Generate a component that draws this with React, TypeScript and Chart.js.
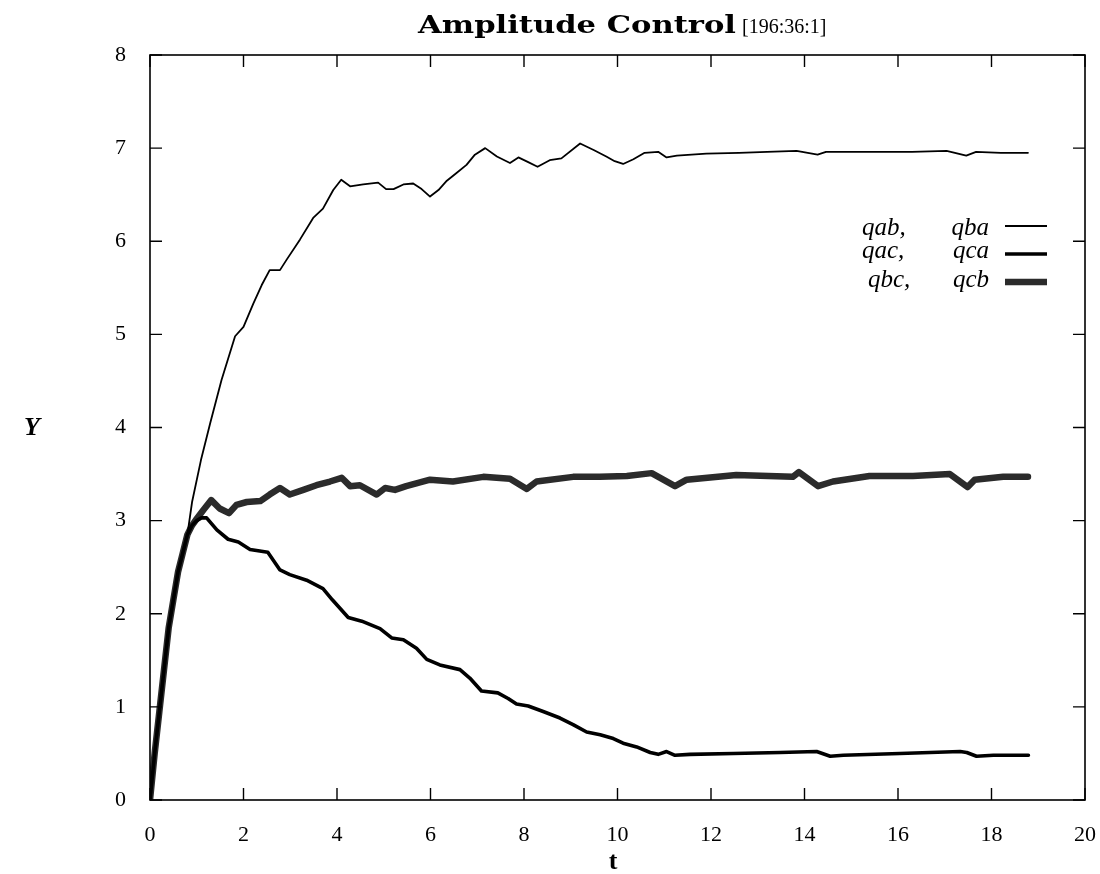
import React, { useEffect, useRef } from "react";
import { Chart, registerables } from "chart.js";

Chart.register(...registerables);

// ---- data ----
const qabT = [0, 0.1, 0.2, 0.3, 0.4, 0.5, 0.6, 0.7, 0.8, 0.9, 1.09, 1.29, 1.53, 1.82, 2.0, 2.21, 2.39, 2.56, 2.78, 2.92, 3.21, 3.49, 3.7, 3.92, 4.09, 4.28, 4.56, 4.88, 5.05, 5.21, 5.42, 5.63, 5.81, 5.99, 6.17, 6.35, 6.55, 6.77, 6.95, 7.17, 7.42, 7.7, 7.88, 8.09, 8.29, 8.55, 8.8, 9.2, 9.49, 9.76, 9.94, 10.12, 10.34, 10.58, 10.87, 11.05, 11.27, 11.9, 12.6, 13.2, 13.83, 14.28, 14.46, 15.46, 16.3, 17.04, 17.46, 17.67, 18.2, 18.78];
const qabY = [0, 0.5, 0.95, 1.4, 1.85, 2.15, 2.45, 2.65, 2.85, 3.2, 3.65, 4.05, 4.51, 4.98, 5.08, 5.33, 5.53, 5.69, 5.69, 5.8, 6.02, 6.25, 6.35, 6.55, 6.66, 6.59, 6.61, 6.63, 6.56, 6.56, 6.61, 6.62, 6.56, 6.48, 6.55, 6.65, 6.73, 6.82, 6.93, 7.0, 6.91, 6.84, 6.9, 6.85, 6.8, 6.87, 6.89, 7.05, 6.98, 6.91, 6.86, 6.83, 6.88, 6.95, 6.96, 6.9, 6.92, 6.94, 6.95, 6.96, 6.97, 6.93, 6.96, 6.96, 6.96, 6.97, 6.92, 6.96, 6.95, 6.95];

const qacT = [0, 0.1, 0.2, 0.3, 0.4, 0.5, 0.6, 0.7, 0.8, 0.9, 1.0, 1.1, 1.21, 1.43, 1.67, 1.89, 2.14, 2.52, 2.78, 2.99, 3.35, 3.7, 3.9, 4.24, 4.53, 4.92, 5.17, 5.42, 5.7, 5.92, 6.2, 6.63, 6.84, 7.09, 7.44, 7.66, 7.84, 8.09, 8.41, 8.77, 9.05, 9.34, 9.63, 9.91, 10.12, 10.41, 10.7, 10.87, 11.05, 11.23, 11.55, 12.48, 13.48, 14.26, 14.55, 14.83, 16.04, 17.33, 17.47, 17.68, 18.04, 18.79];
const qacY = [0, 0.5, 0.95, 1.4, 1.85, 2.15, 2.45, 2.65, 2.85, 2.95, 3.0, 3.03, 3.03, 2.9, 2.8, 2.77, 2.69, 2.66, 2.47, 2.42, 2.36, 2.27, 2.15, 1.96, 1.92, 1.84, 1.74, 1.72, 1.63, 1.51, 1.45, 1.4, 1.31, 1.17, 1.15, 1.09, 1.03, 1.01, 0.95, 0.88, 0.81, 0.73, 0.7, 0.66, 0.61, 0.57, 0.51, 0.49, 0.52, 0.48, 0.49, 0.5, 0.51, 0.52, 0.47, 0.48, 0.5, 0.52, 0.51, 0.47, 0.48, 0.48];

const qbcT = [0, 0.1, 0.2, 0.3, 0.4, 0.5, 0.6, 0.7, 0.8, 0.9, 1.0, 1.15, 1.31, 1.49, 1.69, 1.85, 2.07, 2.36, 2.56, 2.78, 2.99, 3.28, 3.56, 3.85, 4.1, 4.28, 4.49, 4.85, 5.03, 5.24, 5.48, 5.99, 6.48, 7.13, 7.7, 8.06, 8.27, 9.05, 9.62, 10.2, 10.73, 11.23, 11.48, 12.54, 13.75, 13.88, 14.29, 14.61, 15.39, 16.32, 17.11, 17.49, 17.64, 18.25, 18.78];
const qbcY = [0, 0.5, 0.95, 1.4, 1.85, 2.15, 2.45, 2.65, 2.85, 2.95, 3.02, 3.12, 3.22, 3.13, 3.08, 3.17, 3.2, 3.21, 3.28, 3.35, 3.28, 3.33, 3.38, 3.42, 3.46, 3.37, 3.38, 3.28, 3.35, 3.33, 3.37, 3.44, 3.42, 3.47, 3.45, 3.34, 3.42, 3.47, 3.47, 3.48, 3.51, 3.37, 3.44, 3.49, 3.47, 3.52, 3.37, 3.42, 3.48, 3.48, 3.5, 3.36, 3.44, 3.47, 3.47];

const xTickValues = [0, 2, 4, 6, 8, 10, 12, 14, 16, 18, 20];
const yTickValues = [0, 1, 2, 3, 4, 5, 6, 7, 8];

const titleMain = "Amplitude Control";
const titleSub = "[196:36:1]";
const xLabel = "t";
const yLabel = "Y";
const legendRows = [
  { a: "qab,", b: "qba" },
  { a: "qac,", b: "qca" },
  { a: "qbc,", b: "qcb" },
];

const toXY = (t: number[], y: number[]) => t.map((v, i) => ({ x: v, y: y[i] }));

const SERIF = "'Liberation Serif', 'DejaVu Serif', serif";

const decorPlugin = {
  id: "decor",
  afterDraw(chart: any) {
    const { ctx, chartArea } = chart;
    const { left, right, top, bottom } = chartArea;
    const xs = chart.scales.x;
    const ys = chart.scales.y;
    ctx.save();
    // frame
    ctx.strokeStyle = "#000";
    ctx.lineWidth = 1.6;
    ctx.strokeRect(left, top, right - left, bottom - top);
    // inward ticks on all four sides
    ctx.lineWidth = 1.4;
    const tl = 12;
    ctx.beginPath();
    xTickValues.forEach((v) => {
      const px = xs.getPixelForValue(v);
      ctx.moveTo(px, bottom);
      ctx.lineTo(px, bottom - tl);
      ctx.moveTo(px, top);
      ctx.lineTo(px, top + tl);
    });
    yTickValues.forEach((v) => {
      const py = ys.getPixelForValue(v);
      ctx.moveTo(left, py);
      ctx.lineTo(left + tl, py);
      ctx.moveTo(right, py);
      ctx.lineTo(right - tl, py);
    });
    ctx.stroke();

    // title
    ctx.fillStyle = "#000";
    ctx.textBaseline = "alphabetic";
    ctx.textAlign = "left";
    const mainFont = `bold 24px 'DejaVu Serif', serif`;
    const subFont = `20px ${SERIF}`;
    ctx.font = mainFont;
    const wMain = ctx.measureText(titleMain).width;
    ctx.font = subFont;
    const wSub = ctx.measureText(titleSub).width;
    const targetMain = 318;
    const gap = 6;
    const tx = 418;
    ctx.save();
    ctx.translate(tx, 33);
    ctx.scale(targetMain / wMain, 1);
    ctx.font = mainFont;
    ctx.fillText(titleMain, 0, 0);
    ctx.restore();
    ctx.font = subFont;
    ctx.fillText(titleSub, tx + targetMain + gap, 33);

    // axis labels
    ctx.font = `bold 26px ${SERIF}`;
    ctx.textAlign = "center";
    ctx.fillText(xLabel, 613, 869);
    ctx.font = `italic bold 26px ${SERIF}`;
    ctx.textBaseline = "middle";
    ctx.fillText(yLabel, 32, (top + bottom) / 2 + 1);

    // legend
    const rowsY = [235, 258, 287];
    const lineY = [226, 254, 282];
    const leftA = [862, 862, 868];
    ctx.font = `italic 25px ${SERIF}`;
    ctx.textBaseline = "alphabetic";
    const ds = chart.data.datasets;
    legendRows.forEach((r, i) => {
      ctx.textAlign = "left";
      ctx.fillText(r.a, leftA[i], rowsY[i]);
      ctx.textAlign = "right";
      ctx.fillText(r.b, 989, rowsY[i]);
      const d = ds[i];
      ctx.strokeStyle = d.borderColor;
      ctx.lineWidth = d.borderWidth;
      ctx.beginPath();
      ctx.moveTo(1005, lineY[i]);
      ctx.lineTo(1047, lineY[i]);
      ctx.stroke();
    });
    ctx.restore();
  },
};

export default function App() {
  const ref = useRef<HTMLCanvasElement>(null);
  useEffect(() => {
    document.body.style.margin = "0";
    const canvas = ref.current!;
    const chart = new Chart(canvas, {
      type: "line",
      data: {
        datasets: [
          {
            label: "qab, qba",
            data: toXY(qabT, qabY),
            borderColor: "#000",
            borderWidth: 1.8,
            pointRadius: 0,
            tension: 0,
            order: 1,
          },
          {
            label: "qac, qca",
            data: toXY(qacT, qacY),
            borderColor: "#000",
            borderWidth: 3.6,
            pointRadius: 0,
            tension: 0,
            order: 2,
          },
          {
            label: "qbc, qcb",
            data: toXY(qbcT, qbcY),
            borderColor: "#2b2b2b",
            borderWidth: 6.5,
            pointRadius: 0,
            tension: 0,
            order: 3,
          },
        ],
      },
      options: {
        animation: false,
        responsive: false,
        devicePixelRatio: 1,
        layout: { padding: { top: 55, right: 15, left: 0, bottom: 0 } },
        plugins: {
          legend: { display: false },
          tooltip: { enabled: false },
          title: { display: false },
        },
        elements: { line: { borderJoinStyle: "round", borderCapStyle: "round" } },
        scales: {
          x: {
            type: "linear",
            min: 0,
            max: 20,
            grid: { display: false },
            border: { display: false },
            ticks: {
              stepSize: 2,
              color: "#000",
              padding: 14,
              maxRotation: 0,
              font: { family: SERIF, size: 22 },
            },
            afterFit: (s: any) => {
              s.height = 74;
              s.paddingLeft = 0;
              s.paddingRight = 0;
            },
          },
          y: {
            type: "linear",
            min: 0,
            max: 8,
            grid: { display: false },
            border: { display: false },
            ticks: {
              stepSize: 1,
              color: "#000",
              padding: 16,
              font: { family: SERIF, size: 22 },
            },
            afterFit: (s: any) => {
              s.width = 150;
              s.paddingTop = 0;
              s.paddingBottom = 0;
            },
          },
        },
      },
      plugins: [decorPlugin],
    } as any);
    return () => chart.destroy();
  }, []);
  return (
    <div style={{ width: 1100, height: 874, background: "#fff" }}>
      <canvas ref={ref} width={1100} height={874} style={{ display: "block" }} />
    </div>
  );
}
